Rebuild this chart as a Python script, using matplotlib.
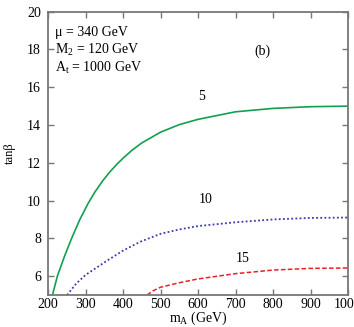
import matplotlib
matplotlib.use("Agg")
import matplotlib.pyplot as plt

plt.rcParams['font.family'] = ['Liberation Serif', 'DejaVu Serif']
plt.rcParams['mathtext.fontset'] = 'custom'
plt.rcParams['mathtext.rm'] = 'Liberation Serif'
plt.rcParams['mathtext.it'] = 'Liberation Serif:italic'

# Data
mA_5 = [212, 225, 244, 263, 285, 307, 325, 346, 365, 384, 400, 425, 450, 500, 550, 600, 700, 800, 900, 1000]
tb_5 = [5, 6, 7.05, 8, 9.0, 9.85, 10.45, 11.05, 11.52, 11.93, 12.24, 12.68, 13.05, 13.62, 14.02, 14.3, 14.7, 14.88, 14.97, 15.0]

mA_10 = [251, 275, 300, 353, 400, 446, 500, 550, 600, 700, 800, 900, 1000]
tb_10 = [5, 5.6, 6.06, 6.76, 7.35, 7.82, 8.24, 8.47, 8.65, 8.85, 9.0, 9.08, 9.1]

mA_15 = [464, 480, 500, 550, 600, 700, 800, 900, 1000]
tb_15 = [5, 5.22, 5.41, 5.65, 5.85, 6.13, 6.32, 6.41, 6.43]

xticks = [200, 300, 400, 500, 600, 700, 800, 900, 1000]
yticks = [6, 8, 10, 12, 14, 16, 18, 20]

fig = plt.figure(figsize=(3.54, 3.27), dpi=100)
ax = fig.add_axes([48/354, 1-295/327, 300/354, (295-11.7)/327])

ax.plot(mA_5, tb_5, color='#12a050', lw=1.2, ls='-')
ax.plot(mA_10, tb_10, color='#3a3aaa', lw=1.3, ls=(0, (1, 1.3)))
ax.plot(mA_15, tb_15, color='#e8202a', lw=1.1, ls=(0, (3, 1.5)))

ax.set_xlim(200, 1000)
ax.set_ylim(5, 20)
ax.set_xticks(xticks)
ax.set_yticks(yticks)
ax.tick_params(direction='in', top=True, right=True, length=4, width=1,
               color='#777777', labelsize=10)
ax.tick_params(axis='x', pad=2)
ax.tick_params(axis='y', pad=5)
for s in ax.spines.values():
    s.set_color('#777777')
    s.set_linewidth(1.3)

ax.set_xlabel(r'm$_\mathregular{A}$ (GeV)', fontsize=10, labelpad=-1)
ax.set_ylabel('tanβ', fontsize=9, labelpad=8)

ax.text(219, 18.9, 'μ = 340 GeV', fontsize=10, va='center', ha='left')
ax.text(219, 17.95, r'M$_\mathregular{2}$ = 120 GeV', fontsize=10, va='center', ha='left')
ax.text(219, 17.0, r'A$_\mathregular{t}$ = 1000 GeV', fontsize=10, va='center', ha='left')
ax.text(771, 17.9, '(b)', fontsize=10, va='center', ha='center')

ax.text(610, 15.5, '5', fontsize=10, va='center', ha='center')
ax.text(621, 10.05, '10', fontsize=10, va='center', ha='center')
ax.text(720, 6.94, '15', fontsize=10, va='center', ha='center')

fig.savefig('out.png', dpi=100)
